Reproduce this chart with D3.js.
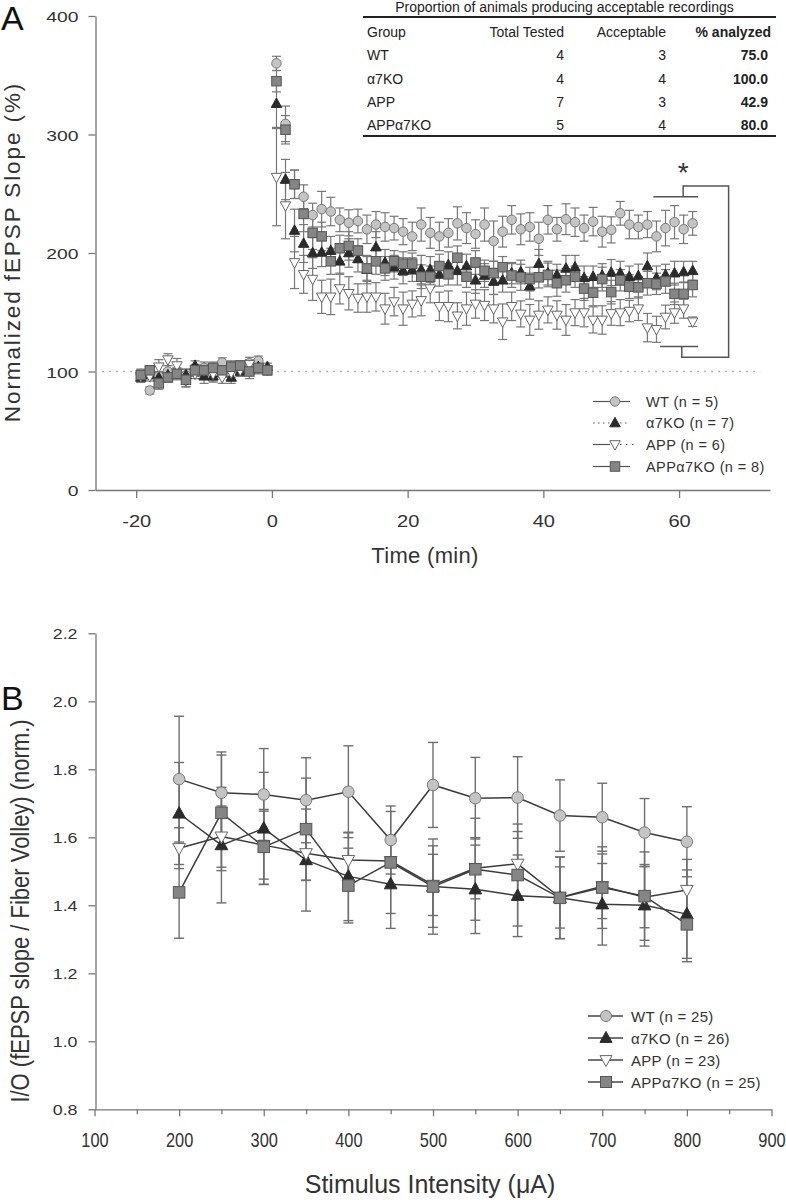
<!DOCTYPE html>
<html><head><meta charset="utf-8">
<script src="https://cdn.jsdelivr.net/npm/d3@7"></script>
<style>body{margin:0;background:#fff}svg{display:block}</style>
</head><body><svg id="c" width="786" height="1200"></svg>
<script>
// ---------------- DATA: Panel A (LTP time course) ----------------
const timeMin = [-19.33,-18,-16.67,-15.33,-14,-12.67,-11.33,-10,-8.67,-7.33,-6,-4.67,-3.33,-2,-0.67,
  0.67,2,3.33,4.67,6,7.33,8.67,10,11.33,12.67,14,15.33,16.67,18,19.33,20.67,22,23.33,24.67,26,27.33,28.67,30,
  31.33,32.67,34,35.33,36.67,38,39.33,40.67,42,43.33,44.67,46,47.33,48.67,50,51.33,52.67,54,55.33,56.67,58,59.33,60.67,62];
const ltpWT = [98,84,96,100,99,97,100,103,102,107.5,104,105,107,109,102,
  360,309,258,247.5,232,237,235,228,225.5,227,220,224,222,221,218,214,224,217,214,217,225,221,216,
  224,210,218,228,220,222,212,228,220,228.5,226,221,226.5,218,219.5,233.5,224,222,224,214,221,226,220,225];
const ltpWTsem = [4,3,4,5,4,5,4,5,6,4,5,4,5,4,3,
  6,15,12,10,10,15,12,10,11,10,12,11,12,10,11,12,14,13,12,12,14,13,12,
  14,17,13,12,13,12,14,12,10,13,12,11,12,13,11,10,12,10,11,13,15,14,12,10];
const ltpA7KO = [95,97,95,97,98,97,105,96,96,99,95,100,101,104,104,
  326,262,219,208,200,200.5,202,193,200,195,186,205,192,188,185,186,186,186,182,190,185,189,177,
  181,176,177,183,184,172,191,183,181.5,187,188,179,180,181,183.5,183,180,180.6,189,179,181.5,183,184,185];
const ltpA7KOsem = [4,3,4,5,4,5,4,6,5,4,5,4,3,4,3,
  20,17,18,16,13,12,12,11,12,11,12,13,11,10,11,10,12,11,10,11,12,10,11,
  10,11,10,9,10,11,12,10,9,11,10,10,9,10,11,10,9,10,11,10,9,10,9,8];
const ltpAPP = [96,96,104,110,105,92,98,101,98,95,99,101,106,103,101,
  264,240,192,182,178,163,163,170,166,162,163,163,153,159,153,157,160,170,155,155,147,153,157,
  156,153,142,155,148.6,143.5,147.7,152,147.7,143.5,149.7,149.7,143.5,143.5,149,149.7,151,153,137,135.6,146,149.7,153,142];
const ltpAPPsem = [5,4,6,5,6,5,4,5,6,5,4,5,4,5,4,
  41,28,22,16,18,14,15,13,14,12,13,12,13,12,14,11,13,12,12,13,11,14,12,
  13,12,15,12,11,13,12,11,12,13,11,12,11,12,10,11,9,10,12,11,10,9,8,4];
const ltpAPPA7KO = [97,101,90,95,98,93,101,101,103,101,104,105,100,103,101,
  345,304,258,233,217,214,193,204,206,202,187,193,187,193,191,191,180,180,189,182,196,180,192,
  185,183,188,181,179.5,178,179.5,181.5,174.5,177,180,170,166.5,178,167,177,171.6,171,174.5,174,176,165.5,165.5,173];
const ltpAPPA7KOsem = [4,4,5,4,5,6,5,4,4,5,4,3,6,4,3,
  9,12,12,15,14,12,11,11,12,10,10,11,10,9,10,9,10,9,10,9,10,9,10,
  9,10,9,10,11,10,9,10,11,10,9,10,11,10,10,9,10,9,10,9,10,9,10,10];
const yTicksA = [0,100,200,300,400];
const xTicksA = [-20,0,20,40,60];
const legendA = ["WT (n = 5)","α7KO (n = 7)","APP (n = 6)","APPα7KO (n = 8)"];

// Table
const tableTitle = "Proportion of animals producing acceptable recordings";
const tableHeader = ["Group","Total Tested","Acceptable","% analyzed"];
const tableGroups = ["WT","α7KO","APP","APPα7KO"];
const tableTotal = [4,4,7,5];
const tableAcceptable = [3,4,3,4];
const tablePct = ["75.0","100.0","42.9","80.0"];

// ---------------- DATA: Panel B (I/O) ----------------
const ioIntensity = [200,250,300,350,400,450,500,550,600,650,700,750,800];
const ioWT = [1.771,1.731,1.726,1.709,1.734,1.592,1.754,1.715,1.717,1.664,1.659,1.614,1.587];
const ioWTsem = [0.185,0.12,0.135,0.125,0.135,0.10,0.125,0.12,0.12,0.105,0.10,0.10,0.103];
const ioA7KO = [1.670,1.577,1.626,1.533,1.485,1.462,1.455,1.447,1.428,1.422,1.403,1.400,1.374];
const ioA7KOsem = [0.15,0.17,0.165,0.15,0.13,0.13,0.12,0.13,0.12,0.12,0.12,0.12,0.13];
const ioAPP = [1.568,1.602,1.577,1.553,1.533,1.530,1.460,1.509,1.522,1.423,1.456,1.424,1.445];
const ioAPPsem = [0.06,0.09,0.10,0.08,0.08,0.075,0.09,0.09,0.095,0.09,0.095,0.09,0.09];
const ioAPPA7KO = [1.438,1.672,1.572,1.624,1.458,1.526,1.455,1.506,1.489,1.422,1.452,1.427,1.344];
const ioAPPA7KOsem = [0.135,0.17,0.11,0.15,0.11,0.15,0.14,0.15,0.15,0.12,0.12,0.13,0.11];
const yTicksB = [0.8,1.0,1.2,1.4,1.6,1.8,2.0,2.2];
const xTicksB = [100,200,300,400,500,600,700,800,900];
const xMinorB = [150,250,350,450,550,650,750,850];
const legendB = ["WT (n = 25)","α7KO (n = 26)","APP (n = 23)","APPα7KO (n = 25)"];

// ---------------- DRAWING ----------------
const FONT = "Arial, 'Liberation Sans', Helvetica, sans-serif";
const svg = d3.select("#c").attr("font-family", FONT);
const AX = "#777", TXT = "#333";

const styles = {
  WT:   {type:"circle", fill:"#c4c4c4", stroke:"#777"},
  A7:   {type:"up",     fill:"#2b2b2b", stroke:"#2b2b2b"},
  APP:  {type:"down",   fill:"#ffffff", stroke:"#666"},
  AA7:  {type:"square", fill:"#858585", stroke:"#555"}
};
function marker(g, st, x, y, s) {
  if (st.type === "circle") {
    g.append("circle").attr("cx",x).attr("cy",y).attr("r",s/2)
      .attr("fill",st.fill).attr("stroke",st.stroke).attr("stroke-width",1);
  } else if (st.type === "square") {
    g.append("rect").attr("x",x-s/2).attr("y",y-s/2).attr("width",s).attr("height",s)
      .attr("fill",st.fill).attr("stroke",st.stroke).attr("stroke-width",1);
  } else {
    const w = s*1.1, h = s;
    const sign = st.type === "up" ? 1 : -1;
    const p = `M${x},${y - sign*h*0.6} L${x + w/2},${y + sign*h*0.4} L${x - w/2},${y + sign*h*0.4} Z`;
    g.append("path").attr("d",p).attr("fill",st.fill).attr("stroke",st.stroke).attr("stroke-width",1);
  }
}
function styleAxis(g) {
  g.attr("font-family", FONT);
  g.select(".domain").attr("stroke",AX).attr("stroke-width",1.3);
  g.selectAll(".tick line").attr("stroke",AX).attr("stroke-width",1.3);
  g.selectAll(".tick text").attr("fill",TXT);
}
const plain = d => String(d);

// ===== Panel A =====
const xA = d3.scaleLinear().domain([-26, 73.4]).range([95.5, 770]);
const yA = d3.scaleLinear().domain([0, 400]).range([490, 16]);

svg.append("text").attr("x",1).attr("y",30).attr("font-size",34).attr("fill","#111").text("A");

svg.append("line").attr("x1",xA(-25)).attr("x2",xA(72)).attr("y1",yA(100)).attr("y2",yA(100))
  .attr("stroke","#999").attr("stroke-width",1.3).attr("stroke-dasharray","1.5,5.5");

const gAy = svg.append("g").attr("transform","translate(95.5,0)")
  .call(d3.axisLeft(yA).tickValues(yTicksA).tickFormat(plain).tickSize(7).tickSizeOuter(0));
styleAxis(gAy);
gAy.selectAll(".tick text").attr("font-size",14).attr("dy","0.4em")
  .attr("x",-17/1.38).attr("transform","scale(1.38,1)");

const gAx = svg.append("g").attr("transform","translate(0,490)")
  .call(d3.axisBottom(xA).tickValues(xTicksA).tickFormat(plain).tickSize(8).tickSizeOuter(0));
styleAxis(gAx);
gAx.selectAll(".tick text").attr("font-size",17).attr("dy",0).attr("y",37)
  .attr("transform","scale(1.18,1)");

svg.append("text").attr("x",425).attr("y",563).attr("text-anchor","middle")
  .attr("font-size",22).attr("letter-spacing",0.3).attr("fill",TXT).text("Time (min)");
svg.append("text").attr("transform","translate(20,252) rotate(-90)").attr("text-anchor","middle")
  .attr("font-size",22.5).attr("letter-spacing",1.9).attr("fill",TXT).text("Normalized fEPSP Slope (%)");

const seriesA = [
  {v:ltpWT, e:ltpWTsem, st:styles.WT},
  {v:ltpA7KO, e:ltpA7KOsem, st:styles.A7},
  {v:ltpAPP, e:ltpAPPsem, st:styles.APP},
  {v:ltpAPPA7KO, e:ltpAPPA7KOsem, st:styles.AA7}
];
const gErrA = svg.append("g").attr("stroke","#777").attr("stroke-width",1.2);
seriesA.forEach(s => {
  timeMin.forEach((t,i) => {
    const x = xA(t), y1 = yA(s.v[i]+s.e[i]), y2 = yA(s.v[i]-s.e[i]);
    gErrA.append("line").attr("x1",x).attr("x2",x).attr("y1",y1).attr("y2",y2);
    gErrA.append("line").attr("x1",x-4.5).attr("x2",x+4.5).attr("y1",y1).attr("y2",y1);
    gErrA.append("line").attr("x1",x-4.5).attr("x2",x+4.5).attr("y1",y2).attr("y2",y2);
  });
});
const gMarkA = svg.append("g");
seriesA.forEach(s => {
  timeMin.forEach((t,i) => marker(gMarkA, s.st, xA(t), yA(s.v[i]), 9.5));
});

// significance bracket
const br = svg.append("g").attr("stroke","#555").attr("stroke-width",1.5).attr("fill","none");
br.append("path").attr("d",
  `M${xA(56.2)},${yA(247.5)} H${xA(62.8)} M${xA(60.6)},${yA(247.5)} V${yA(256.5)} H${xA(67.3)} V${yA(112)} H${xA(60.4)} V${yA(121)} M${xA(57.2)},${yA(121)} H${xA(62.8)}`);
svg.append("text").attr("x",xA(60.6)).attr("y",182).attr("text-anchor","middle")
  .attr("font-size",28).attr("fill","#333").text("*");

// legend A
const gLegA = svg.append("g");
const legAst = [styles.WT, styles.A7, styles.APP, styles.AA7];
const legAy = [401.5, 423, 444.5, 466.5];
legendA.forEach((lab,i) => {
  const y = legAy[i];
  const lineL = gLegA.append("line").attr("x1",593).attr("x2",610).attr("y1",y).attr("y2",y)
    .attr("stroke","#555").attr("stroke-width",1.2);
  const lineR = gLegA.append("line").attr("x1",620).attr("x2",i===2?637:630).attr("y1",y).attr("y2",y)
    .attr("stroke","#555").attr("stroke-width",1.2);
  if (i===1) { lineL.attr("stroke-dasharray","1.5,3.5"); lineR.attr("stroke-dasharray","1.5,3.5"); }
  if (i===2) { lineR.attr("stroke-dasharray","1.5,4.5"); }
  marker(gLegA, legAst[i], 615, y, 9.5);
  gLegA.append("text").attr("x",646).attr("y",y+5).attr("font-size",14.5).attr("letter-spacing",0.4)
    .attr("fill",TXT).text(lab);
});

// table
const gT = svg.append("g").attr("font-size",14).attr("fill","#222");
gT.append("text").attr("x",564.5).attr("y",12).attr("text-anchor","middle").text(tableTitle);
gT.append("line").attr("x1",363).attr("x2",776).attr("y1",17).attr("y2",17).attr("stroke","#222").attr("stroke-width",2);
gT.append("line").attr("x1",363).attr("x2",776).attr("y1",136).attr("y2",136).attr("stroke","#222").attr("stroke-width",2);
const colX = [367, 564, 666, 771];
tableHeader.forEach((h,j) => {
  gT.append("text").attr("x",colX[j]).attr("y",37).attr("text-anchor", j===0?"start":"end")
    .attr("font-weight", j===3?"bold":"normal").text(h);
});
const rowY = [60, 83.5, 107, 130];
tableGroups.forEach((g,i) => {
  gT.append("text").attr("x",367).attr("y",rowY[i]).text(g);
  gT.append("text").attr("x",564).attr("y",rowY[i]).attr("text-anchor","end").text(tableTotal[i]);
  gT.append("text").attr("x",666).attr("y",rowY[i]).attr("text-anchor","end").text(tableAcceptable[i]);
  gT.append("text").attr("x",768).attr("y",rowY[i]).attr("text-anchor","end").attr("font-weight","bold").text(tablePct[i]);
});

// ===== Panel B =====
const xB = d3.scaleLinear().domain([100, 900]).range([94.5, 771.5]);
const yB = d3.scaleLinear().domain([0.8, 2.2]).range([1109.3, 633.3]);

svg.append("text").attr("x",1).attr("y",710).attr("font-size",34).attr("fill","#111").text("B");

const gBy = svg.append("g").attr("transform","translate(95.5,0)")
  .call(d3.axisLeft(yB).tickValues(yTicksB).tickFormat(d3.format(".1f")).tickSize(7).tickSizeOuter(0));
styleAxis(gBy);
gBy.selectAll(".tick text").attr("font-size",15.5).attr("dy","0.36em")
  .attr("x",-18/1.15).attr("transform","scale(1.15,1)");

const gBx = svg.append("g").attr("transform","translate(0,1109.3)")
  .call(d3.axisBottom(xB).tickValues(xTicksB).tickFormat(plain).tickSize(7).tickSizeOuter(0));
styleAxis(gBx);
gBx.selectAll(".tick text").attr("font-size",20).attr("dy",0).attr("y",37.5)
  .attr("transform","scale(0.82,1)");
const gBxm = svg.append("g").attr("transform","translate(0,1109.3)")
  .call(d3.axisBottom(xB).tickValues(xMinorB).tickSize(5).tickFormat(""));
styleAxis(gBxm);
gBxm.select(".domain").remove();

svg.append("text").attr("x",430).attr("y",1193).attr("text-anchor","middle")
  .attr("font-size",25).attr("fill",TXT).text("Stimulus Intensity (μA)");
svg.append("text").attr("transform","translate(29,911) rotate(-90) scale(0.88,1)").attr("text-anchor","middle")
  .attr("font-size",25).attr("fill",TXT).text("I/O (fEPSP slope / Fiber Volley) (norm.)");

const seriesB = [
  {v:ioWT, e:ioWTsem, st:styles.WT},
  {v:ioA7KO, e:ioA7KOsem, st:styles.A7},
  {v:ioAPP, e:ioAPPsem, st:styles.APP},
  {v:ioAPPA7KO, e:ioAPPA7KOsem, st:styles.AA7}
];
const gErrB = svg.append("g").attr("stroke","#6e6e6e").attr("stroke-width",1.4);
seriesB.forEach(s => {
  ioIntensity.forEach((c,i) => {
    const x = xB(c), y1 = yB(s.v[i]+s.e[i]), y2 = yB(s.v[i]-s.e[i]);
    gErrB.append("line").attr("x1",x).attr("x2",x).attr("y1",y1).attr("y2",y2);
    gErrB.append("line").attr("x1",x-5).attr("x2",x+5).attr("y1",y1).attr("y2",y1);
    gErrB.append("line").attr("x1",x-5).attr("x2",x+5).attr("y1",y2).attr("y2",y2);
  });
});
const lineB = d3.line().x((d,i) => xB(ioIntensity[i])).y(d => yB(d));
seriesB.forEach(s => {
  svg.append("path").attr("d", lineB(s.v)).attr("fill","none").attr("stroke","#3c3c3c").attr("stroke-width",1.5);
});
const gMarkB = svg.append("g");
seriesB.forEach(s => {
  ioIntensity.forEach((c,i) => marker(gMarkB, s.st, xB(c), yB(s.v[i]), 11.5));
});

// legend B
const gLegB = svg.append("g");
const legBy = [1016, 1038, 1060, 1082];
legendB.forEach((lab,i) => {
  const y = legBy[i];
  gLegB.append("line").attr("x1",588).attr("x2",623).attr("y1",y).attr("y2",y)
    .attr("stroke","#444").attr("stroke-width",1.4);
  marker(gLegB, legAst[i], 606, y, 11);
  gLegB.append("text").attr("x",631).attr("y",y+5.5).attr("font-size",15).attr("letter-spacing",0.3)
    .attr("fill",TXT).text(lab);
});
</script>
</body></html>
